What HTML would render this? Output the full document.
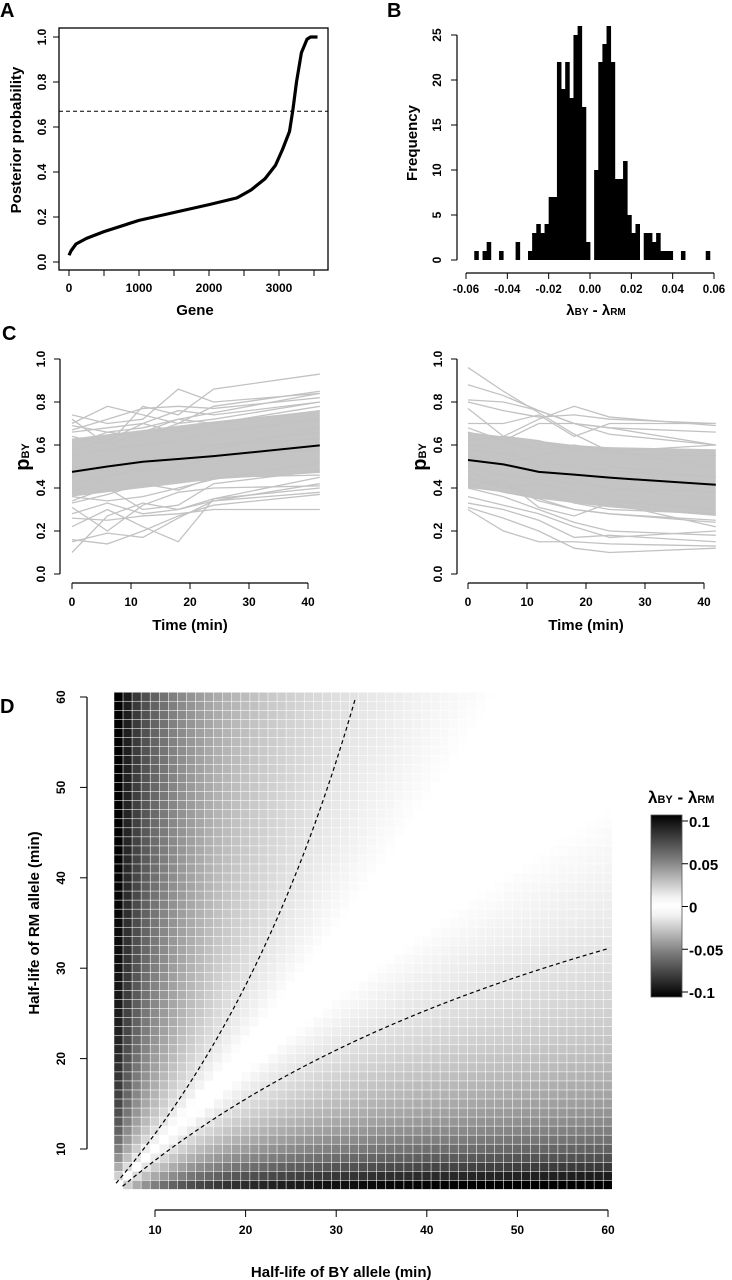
<!DOCTYPE html>
<html><head><meta charset="utf-8">
<style>
html,body{margin:0;padding:0;background:#fff;}
svg{display:block;font-family:"Liberation Sans Narrow","Liberation Sans",sans-serif;font-weight:bold;}
</style></head>
<body>
<svg id="fig" width="732" height="1280" viewBox="0 0 732 1280" xmlns="http://www.w3.org/2000/svg">
<g id="pA"></g>
<g id="pB"></g>
<g id="pC1"></g>
<g id="pC2"></g>
<g id="pD"></g>
</svg>
<script>
// ---------- Panel A data ----------
const aGene = [0,30,100,250,500,1000,1500,2000,2400,2600,2800,2950,3050,3150,3200,3250,3320,3400,3450,3550];
const aProb = [0.03,0.05,0.08,0.105,0.135,0.185,0.22,0.255,0.285,0.32,0.37,0.43,0.50,0.58,0.68,0.80,0.93,0.99,1.0,1.0];
const aThreshold = 0.67;
const aXTicks = [0,1000,2000,3000];
const aXMinor = [0,500,1000,1500,2000,2500,3000,3500];
const aYTicks = [0,0.2,0.4,0.6,0.8,1.0];
// ---------- Panel B data ----------
const bBinStart = -0.056;
const bBinWidth = 0.002;
const bCounts = [1,0,1,2,0,0,1,0,0,0,2,0,0,1,3,4,3,4,7,7,22,19,22,18,25,26,17,2,
                 0,10,22,24,26,22,9,9,11,5,3,4,0,3,3,2,3,1,1,1,0,0,1,0,0,0,0,0,1];
const bXTicks = [-0.06,-0.04,-0.02,0,0.02,0.04,0.06];
const bXLabels = ["-0.06","-0.04","-0.02","0.00","0.02","0.04","0.06"];
const bYTicks = [0,5,10,15,20,25];
// ---------- Panel C data ----------
const cTimes = [0,6,12,18,24,42];
const cXTicks = [0,10,20,30,40];
const cYTicks = [0,0.2,0.4,0.6,0.8,1.0];
const cLeftMean = [0.475,0.50,0.522,0.535,0.548,0.598];
const cLeftBandLo = [0.36,0.38,0.40,0.42,0.44,0.47];
const cLeftBandHi = [0.63,0.65,0.67,0.69,0.71,0.76];
const cLeftLines = [
[0.10,0.27,0.33,0.30,0.35,0.45],[0.16,0.14,0.20,0.27,0.32,0.37],[0.15,0.19,0.17,0.26,0.34,0.38],
[0.22,0.30,0.22,0.15,0.35,0.40],[0.26,0.25,0.27,0.28,0.30,0.30],[0.28,0.33,0.28,0.30,0.34,0.42],
[0.31,0.20,0.32,0.38,0.40,0.41],[0.74,0.70,0.72,0.86,0.80,0.84],[0.72,0.60,0.78,0.74,0.86,0.93],
[0.70,0.78,0.74,0.70,0.78,0.85],[0.67,0.72,0.77,0.78,0.77,0.82],[0.66,0.68,0.70,0.76,0.74,0.80],
[0.60,0.66,0.68,0.72,0.75,0.84],[0.34,0.40,0.30,0.32,0.42,0.48],[0.38,0.45,0.50,0.55,0.60,0.66],
[0.45,0.52,0.48,0.56,0.58,0.68],[0.55,0.58,0.60,0.62,0.66,0.72],[0.50,0.48,0.52,0.55,0.60,0.63],
[0.42,0.46,0.48,0.50,0.54,0.58],[0.58,0.62,0.70,0.66,0.70,0.78],[0.36,0.34,0.36,0.40,0.44,0.52],
[0.64,0.60,0.66,0.72,0.70,0.76],[0.33,0.37,0.42,0.39,0.45,0.46],[0.69,0.66,0.64,0.70,0.72,0.80]];
const cRightMean = [0.53,0.51,0.475,0.462,0.448,0.415];
const cRightBandLo = [0.40,0.38,0.35,0.33,0.31,0.27];
const cRightBandHi = [0.66,0.64,0.62,0.60,0.59,0.58];
const cRightLines = [
[0.96,0.85,0.75,0.65,0.57,0.50],[0.88,0.83,0.76,0.70,0.65,0.60],[0.81,0.80,0.76,0.70,0.68,0.60],
[0.80,0.76,0.73,0.74,0.72,0.70],[0.77,0.64,0.72,0.78,0.73,0.69],[0.70,0.70,0.74,0.64,0.70,0.70],
[0.66,0.62,0.70,0.70,0.68,0.66],[0.30,0.20,0.15,0.15,0.14,0.13],[0.31,0.26,0.20,0.12,0.10,0.12],
[0.33,0.30,0.25,0.17,0.18,0.15],[0.36,0.32,0.28,0.22,0.17,0.20],[0.40,0.36,0.30,0.24,0.20,0.18],
[0.42,0.38,0.35,0.30,0.28,0.25],[0.45,0.40,0.38,0.33,0.30,0.28],[0.60,0.58,0.50,0.44,0.40,0.35],
[0.55,0.52,0.55,0.58,0.50,0.45],[0.50,0.46,0.44,0.42,0.40,0.38],[0.62,0.64,0.62,0.58,0.56,0.55],
[0.48,0.40,0.42,0.38,0.34,0.30],[0.58,0.56,0.52,0.50,0.48,0.45],[0.44,0.42,0.34,0.30,0.28,0.24],
[0.41,0.44,0.31,0.27,0.33,0.22],[0.68,0.62,0.58,0.60,0.57,0.60]];
// ---------- Panel D data ----------
const dHalfLivesBY = [6,7,8,9,10,11,12,13,14,15,16,17,18,19,20,21,22,23,24,25,26,27,28,29,30,31,32,33,34,35,36,37,38,39,40,41,42,43,44,45,46,47,48,49,50,51,52,53,54,55,56,57,58,59,60];
const dHalfLivesRM = [6,7,8,9,10,11,12,13,14,15,16,17,18,19,20,21,22,23,24,25,26,27,28,29,30,31,32,33,34,35,36,37,38,39,40,41,42,43,44,45,46,47,48,49,50,51,52,53,54,55,56,57,58,59,60];
const dContourLevels = [0.01,-0.01];
const dXTicks = [10,20,30,40,50,60];
const dYTicks = [10,20,30,40,50,60];
const dLegendTicks = [0.1,0.05,0,-0.05,-0.1];
const dLegendLabels = ["0.1","0.05","0","-0.05","-0.1"];

const NS="http://www.w3.org/2000/svg";
function mk(parent,tag,attrs,text){const e=document.createElementNS(NS,tag);for(const k in attrs)e.setAttribute(k,attrs[k]);if(text!==undefined)e.textContent=text;parent.appendChild(e);return e;}
function lin(d0,d1,r0,r1){return v=>r0+(v-d0)*(r1-r0)/(d1-d0);}
function rotLabel(g,x,y,txt,size){const t=mk(g,'text',{x:x,y:y,'font-size':size,'text-anchor':'middle',transform:'rotate(-90 '+x+' '+y+')'},txt);return t;}

// ---------- Panel A ----------
(function(){
const g=document.getElementById('pA');
const x=lin(0,3000,69,279), y=lin(0,1,262,37);
let t=mk(g,'text',{x:0,y:17,'font-size':20},'A');


let r=mk(g,'rect',{x:59,y:28,width:269,height:242,fill:'none',stroke:'#000','stroke-width':1.3});


aXMinor.forEach(v=>{const l=mk(g,'line',{x1:x(v),x2:x(v),y1:270,y2:276,stroke:'#000','stroke-width':1});});
aXTicks.forEach(v=>{const l=mk(g,'text',{x:x(v),y:292,'font-size':12,'text-anchor':'middle'},String(v));});
aYTicks.forEach(v=>{const l=mk(g,'line',{x1:53,x2:59,y1:y(v),y2:y(v),stroke:'#000','stroke-width':1});
 const tl=rotLabel(g,46,y(v),v.toFixed(1),12);});
const yt=rotLabel(g,21,140,'Posterior probability',15);

const xt=mk(g,'text',{x:195,y:315,'font-size':15,'text-anchor':'middle'},'Gene');

const dl=mk(g,'line',{x1:59,x2:328,y1:y(aThreshold),y2:y(aThreshold),stroke:'#000','stroke-width':1,'stroke-dasharray':'4,3'});

const p=mk(g,'polyline',{points:aGene.map((v,i)=>x(v)+','+y(aProb[i])).join(' '),fill:'none',stroke:'#000','stroke-width':3.2,'stroke-linejoin':'round'});

})();

// ---------- Panel B ----------
(function(){
const g=document.getElementById('pB');
const x=lin(-0.06,0.06,466,714), y=lin(0,25,260,35);
let t=mk(g,'text',{x:387,y:17,'font-size':20},'B');

bCounts.forEach((c,i)=>{if(!c)return;const x0=x(bBinStart+i*bBinWidth),x1=x(bBinStart+(i+1)*bBinWidth);
 const b=mk(g,'rect',{x:x0,y:y(c),width:x1-x0+0.4,height:y(0)-y(c),fill:'#000'});
 });
const xa=mk(g,'line',{x1:x(-0.06),x2:x(0.06),y1:273,y2:273,stroke:'#000','stroke-width':1.2});

bXTicks.forEach((v,i)=>{const l=mk(g,'line',{x1:x(v),x2:x(v),y1:273,y2:279,stroke:'#000'});
 const tl=mk(g,'text',{x:x(v),y:293,'font-size':11.5,'text-anchor':'middle'},bXLabels[i]);});
const ya=mk(g,'line',{x1:457,x2:457,y1:y(0),y2:y(25),stroke:'#000','stroke-width':1.2});

bYTicks.forEach(v=>{const l=mk(g,'line',{x1:451,x2:457,y1:y(v),y2:y(v),stroke:'#000'});
 const tl=rotLabel(g,441,y(v),String(v),12);});
const yt=rotLabel(g,417,143,'Frequency',15);
const xt=mk(g,'text',{x:596,y:315,'font-size':15,'text-anchor':'middle'});
xt.innerHTML='λ<tspan font-size="10">BY</tspan> - λ<tspan font-size="10">RM</tspan>';

})();

// ---------- Panel C ----------
function drawC(id,x0,mean,lo,hi,lines,yAxisX,letter){
const g=document.getElementById(id);
const x=lin(0,40,x0,x0+236), y=lin(0,1,574,359);
if(letter){const t=mk(g,'text',{x:2,y:340,'font-size':20},'C');}
const band=mk(g,'polygon',{points:cTimes.map((v,i)=>x(v)+','+y(hi[i])).concat(cTimes.map((v,i)=>x(v)+','+y(lo[i])).reverse()).join(' '),fill:'#c4c4c4'});

lines.forEach(s=>{const p=mk(g,'polyline',{points:cTimes.map((v,i)=>x(v)+','+y(s[i])).join(' '),fill:'none',stroke:'#c2c2c2','stroke-width':1.3});
 });
const m=mk(g,'polyline',{points:cTimes.map((v,i)=>x(v)+','+y(mean[i])).join(' '),fill:'none',stroke:'#000','stroke-width':2});

const ya=mk(g,'line',{x1:yAxisX,x2:yAxisX,y1:y(0),y2:y(1),stroke:'#000','stroke-width':1.2});

cYTicks.forEach(v=>{const l=mk(g,'line',{x1:yAxisX-6,x2:yAxisX,y1:y(v),y2:y(v),stroke:'#000'});
 const tl=rotLabel(g,yAxisX-15,y(v),v.toFixed(1),12);});
const xa=mk(g,'line',{x1:x(0),x2:x(40),y1:583,y2:583,stroke:'#000','stroke-width':1.2});

cXTicks.forEach(v=>{const l=mk(g,'line',{x1:x(v),x2:x(v),y1:583,y2:589,stroke:'#000'});
 const tl=mk(g,'text',{x:x(v),y:606,'font-size':12,'text-anchor':'middle'},String(v));});
const xt=mk(g,'text',{x:x(20),y:630,'font-size':15,'text-anchor':'middle'},'Time (min)');

const yx=yAxisX-40;
const yt=mk(g,'text',{x:yx,y:466,'font-size':20,'text-anchor':'middle',transform:'rotate(-90 '+yx+' 457)'});
yt.innerHTML='p<tspan font-size="11">BY</tspan>';

}
drawC('pC1',72,cLeftMean,cLeftBandLo,cLeftBandHi,cLeftLines,60,true);
drawC('pC2',468,cRightMean,cRightBandLo,cRightBandHi,cRightLines,457,false);

// ---------- Panel D ----------
(function(){
const g=document.getElementById('pD');
const x=lin(10,60,155,608), y=lin(10,60,1149,697);
const cw=x(1)-x(0), ch=y(0)-y(1);
const LN2=Math.LN2;
function gray(v){const t=Math.min(Math.max(Math.abs(v)-0.003,0)/0.097,1);return Math.round(255*(1-Math.pow(t,0.85)));}
let t=mk(g,'text',{x:0,y:713,'font-size':20},'D');

const cells=mk(g,'g',{});


dHalfLivesBY.forEach((hb,i)=>{dHalfLivesRM.forEach((hr,j)=>{
 if(i===0&&j===0)return;
 const v=LN2/hb-LN2/hr, c=gray(v);
 const r=mk(cells,'rect',{x:x(hb-0.5),y:y(hr+0.5),width:cw-0.55,height:ch-0.55,fill:'rgb('+c+','+c+','+c+')'});
 
 
});});
dContourLevels.forEach(c=>{const pts=[];
 for(let k=0;k<=300;k++){const hb=5.7+k*(60-5.7)/300;const inv=1/hb-c/LN2;if(inv<=0)continue;const hr=1/inv;if(hr>60.2||hr<5.8)continue;pts.push(x(hb)+','+y(hr));}
 const p=mk(g,'polyline',{points:pts.join(' '),fill:'none',stroke:'#000','stroke-width':1.2,'stroke-dasharray':'4,3'});
 
 });
const xa=mk(g,'line',{x1:x(10),x2:x(60),y1:1210,y2:1210,stroke:'#000','stroke-width':1.2});

dXTicks.forEach(v=>{const l=mk(g,'line',{x1:x(v),x2:x(v),y1:1210,y2:1217,stroke:'#000'});
 const tl=mk(g,'text',{x:x(v),y:1234,'font-size':12,'text-anchor':'middle'},String(v));});
const ya=mk(g,'line',{x1:87,x2:87,y1:y(10),y2:y(60),stroke:'#000','stroke-width':1.2});

dYTicks.forEach(v=>{const l=mk(g,'line',{x1:80,x2:87,y1:y(v),y2:y(v),stroke:'#000'});
 const tl=rotLabel(g,65,y(v),String(v),12);});
const xt=mk(g,'text',{x:x(30)+5,y:1277,'font-size':15,'text-anchor':'middle'},'Half-life of BY allele (min)');

const yt=rotLabel(g,39,923,'Half-life of RM allele (min)',15);

// legend
const defs=mk(g,'defs',{});
const lg=mk(defs,'linearGradient',{id:'cbar',x1:0,y1:0,x2:0,y2:1});
[[0,'#000'],[0.25,'#808080'],[0.45,'#f2f2f2'],[0.5,'#fff'],[0.55,'#f2f2f2'],[0.75,'#808080'],[1,'#000']].forEach(s=>mk(lg,'stop',{offset:s[0],'stop-color':s[1]}));
const ly=lin(-0.1,0.1,992,821);
const bar=mk(g,'rect',{x:651,y:815,width:31,height:182,fill:'url(#cbar)',stroke:'#555','stroke-width':0.8});

dLegendTicks.forEach((v,i)=>{const l=mk(g,'line',{x1:682,x2:688,y1:ly(v),y2:ly(v),stroke:'#000'});
 const tl=mk(g,'text',{x:689,y:ly(v)+6,'font-size':15},dLegendLabels[i]);});
const lt=mk(g,'text',{x:648,y:803,'font-size':17});
lt.innerHTML='λ<tspan font-size="11">BY</tspan> - λ<tspan font-size="11">RM</tspan>';

})();
</script>
</body></html>
